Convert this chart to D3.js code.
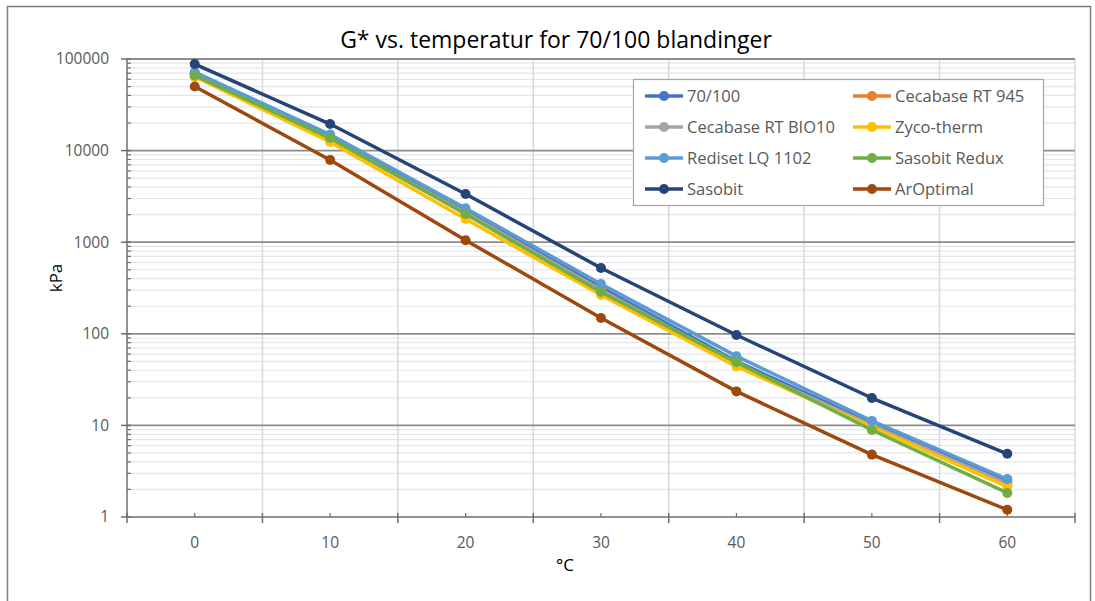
<!DOCTYPE html>
<html>
<head>
<meta charset="utf-8">
<script src="https://cdn.jsdelivr.net/npm/d3@7"></script>
<style>
  body { margin: 0; background: #fff; }
  svg { font-family: "Open Sans", "Noto Sans", sans-serif; }
</style>
</head>
<body>
<svg id="chart" width="1095" height="601"></svg>
<script>
// temperatures (category axis)
const temps = [0, 10, 20, 30, 40, 50, 60];
const seriesNames = ['70/100', 'Cecabase RT 945', 'Cecabase RT BIO10', 'Zyco-therm',
                     'Rediset LQ 1102', 'Sasobit Redux', 'Sasobit', 'ArOptimal'];
const seriesColors = ['#4472C4', '#ED7D31', '#A5A5A5', '#FFC000',
                      '#5B9BD5', '#70AD47', '#264478', '#9E480E'];
// G* in kPa
const g7010 = [70000, 14000, 2200, 320, 50, 10.5, 2.4];
const gCeca945 = [68000, 13500, 2100, 300, 46, 10, 2.3];
const gCecaBio = [68000, 13500, 2100, 300, 47, 10, 2.3];
const gZyco = [64000, 12400, 1790, 265, 44, 9.6, 2.15];
const gRediset = [72000, 15000, 2350, 350, 57, 11.2, 2.6];
const gRedux = [66000, 13700, 2030, 286, 49, 8.9, 1.83];
const gSasobit = [88000, 19500, 3360, 523, 97, 19.9, 4.9];
const gArOptimal = [50000, 7900, 1050, 149, 23.5, 4.8, 1.2];
const yTicks = [1, 10, 100, 1000, 10000, 100000];

const seriesValues = [g7010, gCeca945, gCecaBio, gZyco, gRediset, gRedux, gSasobit, gArOptimal];
const series = seriesNames.map((name, i) => ({
  name: name,
  color: seriesColors[i],
  values: seriesValues[i].map((v, j) => ({t: temps[j], v: v})),
}));

const margin = {left: 127, right: 1075, top: 59, bottom: 517};
const svg = d3.select('#chart');

// outer chart border
svg.append('rect')
   .attr('x', 7.5).attr('y', 6.5)
   .attr('width', 1083).attr('height', 620)
   .attr('fill', 'none').attr('stroke', '#7f7f7f').attr('stroke-width', 1.5);

const xScale = d3.scaleBand()
                 .domain(temps)
                 .range([margin.left, margin.right]);
const yScale = d3.scaleLog()
                 .domain([1, 100000])
                 .range([margin.bottom, margin.top]);

const grid = svg.append('g');
// minor horizontal grid
const minors = [];
yTicks.slice(0, -1).forEach((d) => {
  for (let k = 2; k <= 9; k++) minors.push(d * k);
});
grid.selectAll('.minor')
    .data(minors)
    .enter()
    .append('line')
    .attr('x1', margin.left).attr('x2', margin.right)
    .attr('y1', (d) => yScale(d)).attr('y2', (d) => yScale(d))
    .attr('stroke', '#e3e6ec').attr('stroke-width', 1.2);
// vertical grid between categories
const bounds = temps.map((t) => xScale(t)).concat([margin.right]).slice(1);
grid.selectAll('.vgrid')
    .data(bounds)
    .enter()
    .append('line')
    .attr('x1', (d) => d).attr('x2', (d) => d)
    .attr('y1', margin.top).attr('y2', margin.bottom)
    .attr('stroke', '#d9d9d9').attr('stroke-width', 1.5);
// major horizontal grid
grid.selectAll('.major')
    .data(yTicks.slice(1))
    .enter()
    .append('line')
    .attr('x1', margin.left).attr('x2', margin.right)
    .attr('y1', (d) => yScale(d)).attr('y2', (d) => yScale(d))
    .attr('stroke', '#8c8c8c').attr('stroke-width', 1.8);

// y axis
const yAxis = svg.append('g');
yAxis.append('line')
     .attr('x1', margin.left).attr('x2', margin.left)
     .attr('y1', margin.top).attr('y2', margin.bottom)
     .attr('stroke', '#6e6e6e').attr('stroke-width', 1.5);
yAxis.selectAll('.ymaj')
     .data(yTicks)
     .enter()
     .append('line')
     .attr('x1', margin.left - 6).attr('x2', margin.left + 4)
     .attr('y1', (d) => yScale(d)).attr('y2', (d) => yScale(d))
     .attr('stroke', '#6e6e6e').attr('stroke-width', 1.5);
yAxis.selectAll('.ymin')
     .data(minors)
     .enter()
     .append('line')
     .attr('x1', margin.left).attr('x2', margin.left + 4)
     .attr('y1', (d) => yScale(d)).attr('y2', (d) => yScale(d))
     .attr('stroke', '#6e6e6e').attr('stroke-width', 1.2);
yAxis.selectAll('text')
     .data(yTicks)
     .enter()
     .append('text')
     .attr('x', 109)
     .attr('y', (d) => yScale(d))
     .attr('dy', '0.35em')
     .attr('text-anchor', 'end')
     .attr('font-size', 15.5)
     .attr('fill', '#595959')
     .text((d) => d);

// x axis
const xAxis = svg.append('g');
xAxis.append('line')
     .attr('x1', margin.left).attr('x2', margin.right)
     .attr('y1', margin.bottom).attr('y2', margin.bottom)
     .attr('stroke', '#6e6e6e').attr('stroke-width', 1.5);
xAxis.selectAll('.xmaj')
     .data([margin.left].concat(bounds))
     .enter()
     .append('line')
     .attr('x1', (d) => d).attr('x2', (d) => d)
     .attr('y1', margin.bottom - 4).attr('y2', margin.bottom + 6)
     .attr('stroke', '#6e6e6e').attr('stroke-width', 1.5);
xAxis.selectAll('.xmin')
     .data(temps)
     .enter()
     .append('line')
     .attr('x1', (d) => xScale(d) + xScale.bandwidth() / 2)
     .attr('x2', (d) => xScale(d) + xScale.bandwidth() / 2)
     .attr('y1', margin.bottom - 4).attr('y2', margin.bottom)
     .attr('stroke', '#6e6e6e').attr('stroke-width', 1.2);
xAxis.selectAll('text')
     .data(temps)
     .enter()
     .append('text')
     .attr('x', (d) => xScale(d) + xScale.bandwidth() / 2)
     .attr('y', 548)
     .attr('text-anchor', 'middle')
     .attr('font-size', 15.5)
     .attr('fill', '#595959')
     .text((d) => d);

// series
const line = d3.line()
               .x((d) => xScale(d.t) + xScale.bandwidth() / 2)
               .y((d) => yScale(d.v));
const layer = svg.selectAll('.series')
                 .data(series)
                 .enter()
                 .append('g')
                 .attr('class', 'series');
layer.append('path')
     .attr('d', (d) => line(d.values))
     .attr('fill', 'none')
     .attr('stroke', (d) => d.color)
     .attr('stroke-width', 3.5)
     .attr('stroke-linejoin', 'round');
layer.selectAll('circle')
     .data((d) => d.values.map((p) => ({t: p.t, v: p.v, color: d.color})))
     .enter()
     .append('circle')
     .attr('cx', (d) => xScale(d.t) + xScale.bandwidth() / 2)
     .attr('cy', (d) => yScale(d.v))
     .attr('r', 5)
     .attr('fill', (d) => d.color);

// titles
svg.append('text')
   .attr('x', 556).attr('y', 48)
   .attr('text-anchor', 'middle')
   .attr('font-size', 23)
   .attr('fill', '#000')
   .text('G* vs. temperatur for 70/100 blandinger');
svg.append('text')
   .attr('transform', 'translate(62,' + 278 + ') rotate(-90)')
   .attr('text-anchor', 'middle')
   .attr('font-size', 17)
   .attr('fill', '#000')
   .text('kPa');
svg.append('text')
   .attr('x', 565).attr('y', 571)
   .attr('text-anchor', 'middle')
   .attr('font-size', 17)
   .attr('fill', '#000')
   .text('°C');

// legend
const legend = svg.append('g');
legend.append('rect')
      .attr('x', 633.5).attr('y', 79.5)
      .attr('width', 410).attr('height', 126)
      .attr('fill', '#fff')
      .attr('stroke', '#a6a6a6').attr('stroke-width', 1.2);
const item = legend.selectAll('.item')
                   .data(series)
                   .enter()
                   .append('g')
                   .attr('transform', (d, i) =>
                       'translate(' + (645 + (i % 2) * 208) + ',' +
                       (96 + Math.floor(i / 2) * 31) + ')');
item.append('line')
    .attr('x1', 0).attr('x2', 38)
    .attr('stroke', (d) => d.color)
    .attr('stroke-width', 3.5);
item.append('circle')
    .attr('cx', 19).attr('r', 5)
    .attr('fill', (d) => d.color);
item.append('text')
    .attr('x', 42)
    .attr('dy', '0.35em')
    .attr('font-size', 16.5)
    .attr('fill', '#595959')
    .text((d) => d.name);
</script>
</body>
</html>
